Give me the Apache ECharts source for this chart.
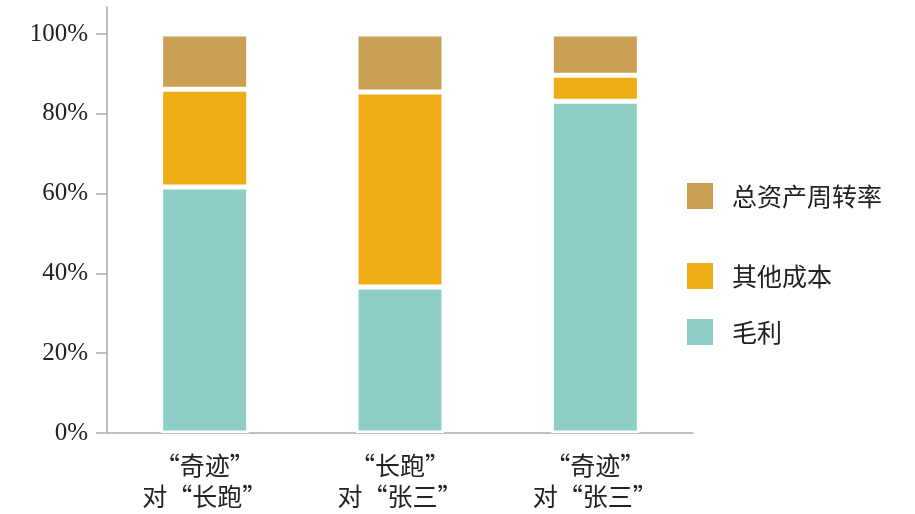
<!DOCTYPE html>
<html><head><meta charset="utf-8">
<script src="https://cdn.jsdelivr.net/npm/echarts@6/dist/echarts.min.js"></script>
<style>html,body{margin:0;padding:0;background:#fff}#c{width:915px;height:514px}</style>
</head><body><div id="c"></div>
<script>
const categories = ['“奇迹”\n对“长跑”', '“长跑”\n对“张三”', '“奇迹”\n对“张三”'];
const grossProfit = [61.7, 36.6, 83.2];      // 毛利
const otherCost = [24.5, 48.9, 6.5];         // 其他成本
const assetTurnover = [13.8, 14.5, 10.3];    // 总资产周转率
const yTicks = [0, 20, 40, 60, 80, 100];

const cjk = '"Noto Sans CJK SC", sans-serif';
const serif = '"Liberation Serif", "DejaVu Serif", serif';
const chart = echarts.init(document.getElementById('c'));
const border = {borderColor: '#fff', borderWidth: 2.5};
const legendCommon = {left: 680, orient: 'vertical', itemWidth: 28, itemHeight: 28, itemGap: 10,
  textStyle: {fontFamily: cjk, fontSize: 25, color: '#222', padding: [0, 0, 0, 13]}, icon: 'rect'};
chart.setOption({
  animation: false,
  grid: {left: 107, right: 222, top: 7, bottom: 81},
  legend: [
    Object.assign({top: 176, data: ['总资产周转率']}, legendCommon),
    Object.assign({top: 256, data: ['其他成本']}, legendCommon),
    Object.assign({top: 312, data: ['毛利']}, legendCommon)
  ],
  xAxis: {
    type: 'category', data: categories,
    axisLine: {lineStyle: {color: '#aaa', width: 1.5}},
    axisTick: {length: 13, lineStyle: {color: '#aaa', width: 1.5}},
    axisLabel: {fontFamily: cjk, fontSize: 25, color: '#222', lineHeight: 31, margin: 17}
  },
  yAxis: {
    type: 'value', min: 0, max: 106.8, interval: 20,
    splitLine: {show: false},
    axisLine: {show: true, lineStyle: {color: '#aaa', width: 1.5}},
    axisTick: {show: true, length: 11, customValues: yTicks, lineStyle: {color: '#aaa', width: 1.5}},
    axisLabel: {customValues: yTicks, formatter: v => v + '%', fontFamily: serif, fontSize: 25, color: '#222', margin: 19}
  },
  series: [
    {name: '毛利', type: 'bar', stack: 's', data: grossProfit, barWidth: 88, itemStyle: Object.assign({color: '#8FCEC6'}, border)},
    {name: '其他成本', type: 'bar', stack: 's', data: otherCost, barWidth: 88, itemStyle: Object.assign({color: '#EEAD14'}, border)},
    {name: '总资产周转率', type: 'bar', stack: 's', data: assetTurnover, barWidth: 88, itemStyle: Object.assign({color: '#CBA052'}, border)}
  ]
});
</script></body></html>
